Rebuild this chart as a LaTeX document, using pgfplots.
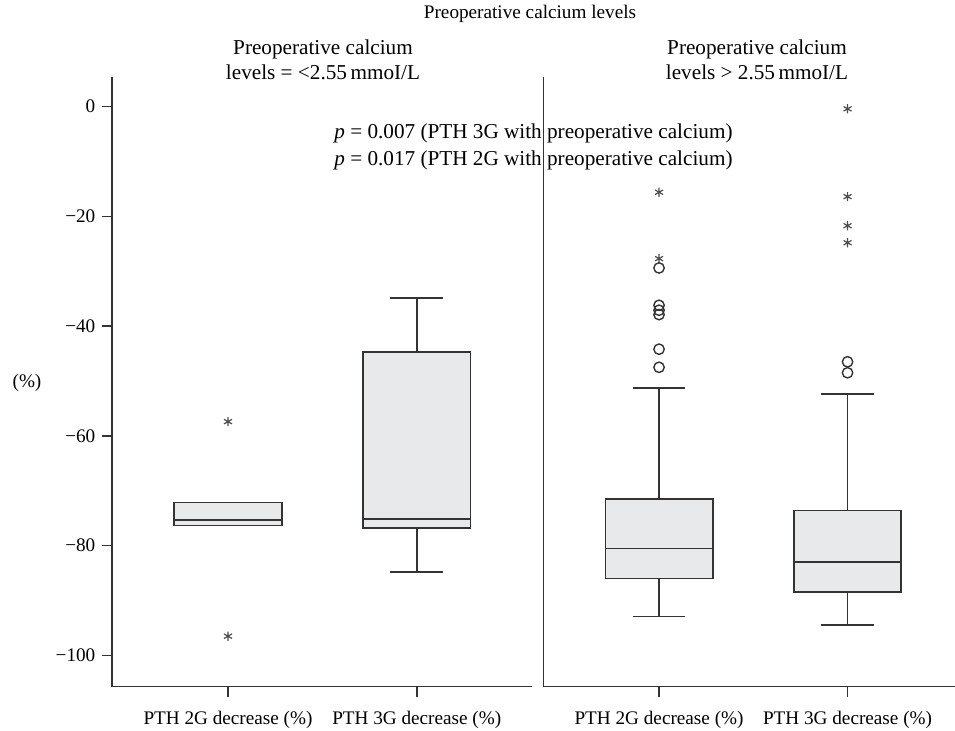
\documentclass[border=0pt]{standalone}
\usepackage{fontspec}
\setmainfont{Liberation Serif}
\usepackage{pgfplots}
\pgfplotsset{compat=1.18}
\usepgfplotslibrary{statistics}

\definecolor{axisgray}{HTML}{333333}
\definecolor{boxfill}{HTML}{E8E9EA}
\definecolor{markgray}{HTML}{4D4D4D}

\pgfplotsset{
  panel/.style={
    scale only axis,
    disabledatascaling,
    height=304.85pt,
    ymin=-105.7, ymax=5.4,
    axis lines=left,
    axis line style={-, draw=axisgray, line width=0.8pt},
    tick align=outside,
    major tick length=5pt,
    tick style={draw=axisgray, line width=0.8pt},
    xtick={1,2},
    xticklabels={PTH 2G decrease (\%), PTH 3G decrease (\%)},
    x tick label style={yshift=-3.5pt},
    boxplot/draw direction=y,
    boxplot/every box/.style={fill=boxfill},
    clip=false,
  },
  bxp/.style={draw=axisgray, line width=0.8pt, solid},
  stars/.style={only marks, mark=asterisk, mark size=2.3pt, color=markgray,
    mark options={line width=0.6pt}},
  rings/.style={only marks, mark=o, mark size=2.6pt, color=axisgray,
    mark options={line width=0.7pt}},
}

\begin{document}
\begin{tikzpicture}[font=\fontsize{9.6}{12.5}\selectfont]
\useasboundingbox (-56.15pt,-22.15pt) rectangle (421.35pt,343.35pt);

% calcium <= 2.55
\begin{axis}[panel,
    at={(0pt,0pt)}, width=209.7pt,
    xmin=0.387, xmax=2.609,
    ytick={-100,-80,-60,-40,-20,0},
    yticklabels={−100,−80,−60,−40,−20,0},
  ]
  \addplot+[bxp, mark=none, boxplot prepared={draw position=1,
      lower whisker=-76.3, lower quartile=-76.3, median=-75.3,
      upper quartile=-72.1, upper whisker=-72.1,
      box extend=0.57, whisker extend=0.28}] coordinates {};
  \addplot+[bxp, mark=none, boxplot prepared={draw position=2,
      lower whisker=-84.8, lower quartile=-76.8, median=-75.1,
      upper quartile=-44.7, upper whisker=-34.9,
      box extend=0.57, whisker extend=0.28}] coordinates {};
  \addplot[stars] coordinates {(1,-57.4) (1,-96.5)};
\end{axis}

% calcium > 2.55
\begin{axis}[panel,
    at={(215.5pt,0pt)}, width=205.85pt,
    xmin=0.386, xmax=2.57,
    ytick=\empty,
  ]
  \addplot+[bxp, mark=none, boxplot prepared={draw position=1,
      lower whisker=-92.9, lower quartile=-86.0, median=-80.5,
      upper quartile=-71.5, upper whisker=-51.3,
      box extend=0.57, whisker extend=0.28}] coordinates {};
  \addplot+[bxp, mark=none, boxplot prepared={draw position=2,
      lower whisker=-94.5, lower quartile=-88.4, median=-83.0,
      upper quartile=-73.6, upper whisker=-52.4,
      box extend=0.57, whisker extend=0.28}] coordinates {};
  \addplot[stars] coordinates {(1,-15.6) (1,-27.7)};
  \addplot[rings] coordinates {(1,-29.4) (1,-36.2) (1,-37.1) (1,-37.9) (1,-44.2) (1,-47.5)};
  \addplot[stars] coordinates {(2,-0.4) (2,-16.4) (2,-21.7) (2,-24.8)};
  \addplot[rings] coordinates {(2,-46.5) (2,-48.5)};
\end{axis}

\node at (208.85pt,336.35pt) {Preoperative calcium levels};
\begin{scope}[font=\fontsize{10.6}{12.5}\selectfont]
\node[align=center] at (105.35pt,313.6pt) {Preoperative calcium\\levels = <2.55\,mmoI/L};
\node[align=center] at (322.35pt,313.6pt) {Preoperative calcium\\levels > 2.55\,mmoI/L};
\node[anchor=west, inner sep=0pt] at (110.85pt,276.85pt) {\textit{p} = 0.007 (PTH 3G with preoperative calcium)};
\node[anchor=west, inner sep=0pt] at (110.85pt,263.35pt) {\textit{p} = 0.017 (PTH 2G with preoperative calcium)};
\end{scope}
\node at (-42.65pt,151.85pt) {(\%)};
\end{tikzpicture}
\end{document}
